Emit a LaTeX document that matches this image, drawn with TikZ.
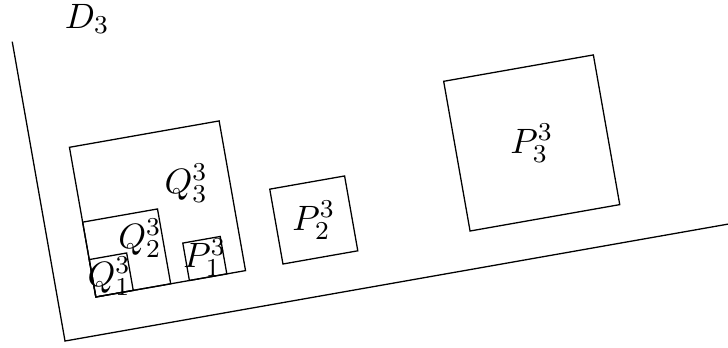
\documentclass[tikz,border=0pt]{standalone}
\begin{document}
\begin{tikzpicture}[x=0.415cm,y=0.415cm,
  sq/.style={draw,line width=0.4pt},
  lbl/.style={inner sep=0pt,font=\fontsize{11}{13.6}\selectfont}]
\clip (-1.711,-0.158) rectangle (17.447,8.974);
\useasboundingbox (-1.711,-0.158) rectangle (17.447,8.974);
\node[lbl] (d3) at (0.58,8.48) {$D_3$};
\begin{scope}[rotate=10]
  \draw[sq] (0,8) -- (0,0) -- (20,0);
  \draw[sq] (1,1) rectangle (5,5);
  \draw[sq] (1,1) rectangle (3,3);
  \draw[sq] (1,1) rectangle (2,2);
  \draw[sq] (3.5,1) rectangle (4.5,2);
  \draw[sq] (6,1) rectangle (8,3);
  \draw[sq] (11,1) rectangle (15,5);
  \node[lbl] (q3) at (3.86,3.54) {$Q_3^3$};
  \node[lbl] (q2) at (2.41,2.33) {$Q_2^3$};
  \node[lbl] (q1) at (1.44,1.48) {$Q_1^3$};
  \node[lbl] (p1) at (4,1.52) {$P_1^3$};
  \node[lbl] (p2) at (7,2) {$P_2^3$};
  \node[lbl] (p3) at (13,3) {$P_3^3$};
\end{scope}
\end{tikzpicture}
\end{document}
